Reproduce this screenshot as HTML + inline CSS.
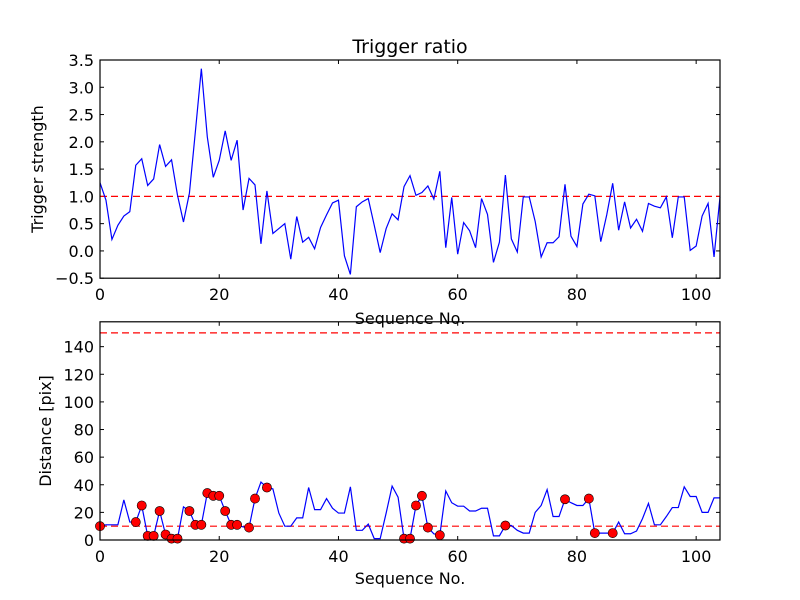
<!DOCTYPE html>
<html><head><meta charset="utf-8"><style>
body{margin:0;background:#fff;}
svg{display:block;font-family:"DejaVu Sans","Liberation Sans",sans-serif;}
</style></head><body>
<svg id="chart" width="800" height="600" viewBox="0 0 800 600">
<rect width="800" height="600" fill="#fff"/>
<g id="top"></g>
<g id="bot"></g>
<text x="410" y="53" font-size="19" text-anchor="middle">Trigger ratio</text>
<text x="410" y="324" font-size="16" text-anchor="middle">Sequence No.</text>
<text x="410" y="584" font-size="16" text-anchor="middle">Sequence No.</text>
<text transform="translate(43,169) rotate(-90)" font-size="16" text-anchor="middle">Trigger strength</text>
<text transform="translate(51,431) rotate(-90)" font-size="16" text-anchor="middle">Distance [pix]</text>
</svg>
<script>
const strength = [1.25,0.93,0.21,0.47,0.64,0.72,1.57,1.69,1.20,1.32,1.95,1.55,1.67,1.02,0.53,1.06,2.19,3.34,2.09,1.35,1.66,2.20,1.66,2.03,0.75,1.33,1.21,0.13,1.10,0.32,0.41,0.50,-0.15,0.63,0.16,0.25,0.04,0.43,0.66,0.88,0.93,-0.09,-0.43,0.81,0.90,0.96,0.47,-0.03,0.41,0.68,0.57,1.18,1.38,1.02,1.07,1.19,0.95,1.46,0.06,0.98,-0.06,0.52,0.37,0.06,0.96,0.67,-0.21,0.16,1.39,0.22,-0.02,0.99,0.99,0.54,-0.11,0.15,0.15,0.26,1.22,0.27,0.08,0.86,1.04,1.01,0.17,0.66,1.24,0.38,0.90,0.42,0.58,0.36,0.87,0.82,0.79,0.99,0.24,0.99,0.99,0.01,0.09,0.64,0.87,-0.11,0.99];
const distance = [10,11,11,11,29,13,13,25,3,3,21,4,1,1,24,21,11,11,34,32,32,21,11,11,9.5,9,30,42,38,37,19.5,10,10,16,16,38,22,22,30,23,19.5,19.5,38.5,7,7,11.5,1,1,19.5,39,31,1,1,25,32,9,4.5,3.5,35.5,27,24.5,24.5,21,21,23,23,3,3,10.5,10.5,7,5,5,20,25,36.5,17,17,29.5,27,25,25,30,5,5,5,5,13,4.5,4.5,6.5,15.5,26.5,11,11,17,23.5,23.5,38.5,31.5,31.5,20,20,30.5,30.5];
const markerIdx = [0,6,7,8,9,10,11,12,13,15,16,17,18,19,20,21,22,23,25,26,28,51,52,53,54,55,57,68,78,82,83,86];
const xTicks = [0,20,40,60,80,100];
const topYTicks = [-0.5,0.0,0.5,1.0,1.5,2.0,2.5,3.0,3.5];
const topYLabels = ["\u22120.5","0.0","0.5","1.0","1.5","2.0","2.5","3.0","3.5"];
const botYTicks = [0,20,40,60,80,100,120,140];
const topThreshold = [1.0];
const botThresholds = [10,150];

const NS="http://www.w3.org/2000/svg";
function mk(tag,attrs,parent){const e=document.createElementNS(NS,tag);for(const k in attrs)e.setAttribute(k,attrs[k]);parent.appendChild(e);return e;}
const L=100,R=720,XMAX=104;
const sx=v=>L+(R-L)*v/XMAX;

function panel(g,T,B,ymin,ymax,yt,ylab,prefix){
  const sy=v=>B-(B-T)*(v-ymin)/(ymax-ymin);
  xTicks.forEach(t=>{
    const x=sx(t);
    const a=mk('line',{x1:x,x2:x,y1:B,y2:B-4,stroke:'#000'},g);
    
    
    const b=mk('line',{x1:x,x2:x,y1:T,y2:T+4,stroke:'#000'},g);
    
    
    const tx=mk('text',{x:x,y:B+22,'font-size':16,'text-anchor':'middle'},g);
    tx.textContent=t;
    
    
  });
  yt.forEach((t,i)=>{
    const y=sy(t);
    const a=mk('line',{x1:L,x2:L+4,y1:y,y2:y,stroke:'#000'},g);
    
    
    const b=mk('line',{x1:R,x2:R-4,y1:y,y2:y,stroke:'#000'},g);
    
    
    const tx=mk('text',{x:L-6,y:y+6,'font-size':16,'text-anchor':'end'},g);
    tx.textContent=ylab[i];
    
    
  });
  return sy;
}

const gt=document.getElementById('top');
const syT=panel(gt,60,278.2,-0.5,3.5,topYTicks,topYLabels,'top');
topThreshold.forEach(v=>{
  const l=mk('line',{x1:L,x2:R,y1:syT(v),y2:syT(v),stroke:'#f00','stroke-width':1.2,'stroke-dasharray':'7,4'},gt);
  
  
});
const p1=mk('polyline',{points:strength.map((v,i)=>sx(i)+','+syT(v)).join(' '),fill:'none',stroke:'#00f','stroke-width':1.2},gt);


const f1=mk('rect',{x:L,y:60,width:R-L,height:218.2,fill:'none',stroke:'#000','stroke-width':1.2},gt);



const gb=document.getElementById('bot');
const syB=panel(gb,321.8,540,0,158,botYTicks,botYTicks.map(String),'bottom');
botThresholds.forEach(v=>{
  const l=mk('line',{x1:L,x2:R,y1:syB(v),y2:syB(v),stroke:'#f00','stroke-width':1.2,'stroke-dasharray':'7,4'},gb);
  
  
});
const p2=mk('polyline',{points:distance.map((v,i)=>sx(i)+','+syB(v)).join(' '),fill:'none',stroke:'#00f','stroke-width':1.2},gb);


markerIdx.forEach(i=>{
  const c=mk('circle',{cx:sx(i),cy:syB(distance[i]),r:4.6,fill:'#f00',stroke:'#000','stroke-width':0.6},gb);
  
  
});
const f2=mk('rect',{x:L,y:321.8,width:R-L,height:218.2,fill:'none',stroke:'#000','stroke-width':1.2},gb);


</script>
</body></html>
